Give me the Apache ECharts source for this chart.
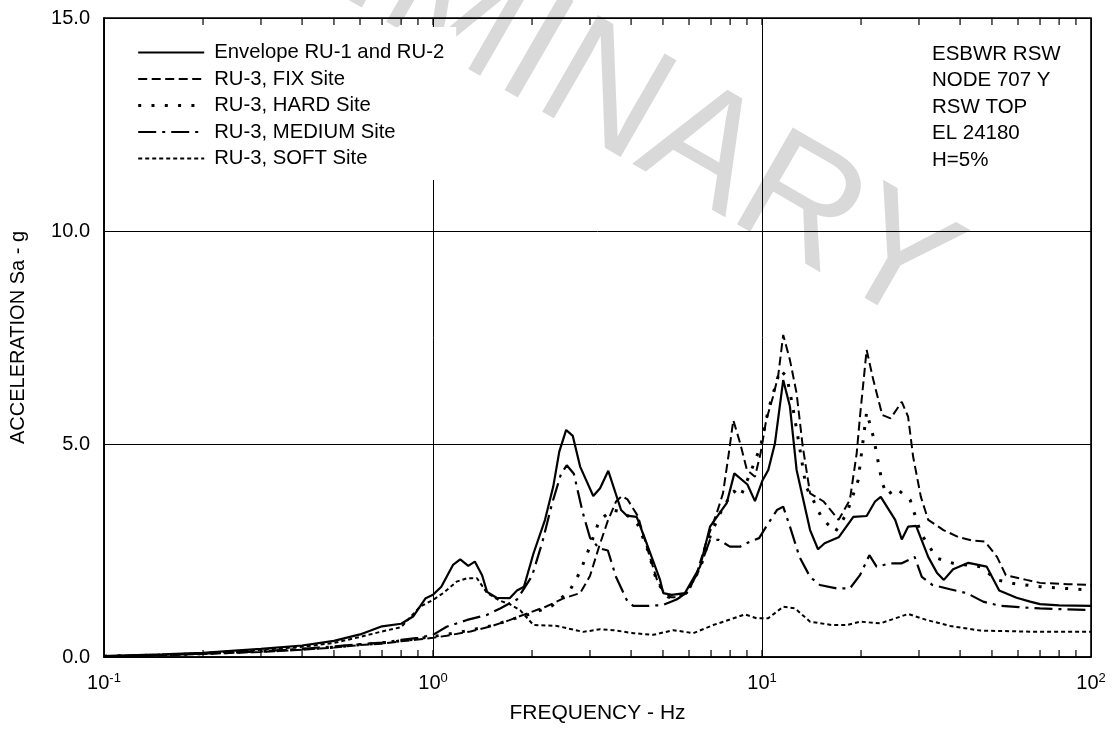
<!DOCTYPE html>
<html>
<head>
<meta charset="utf-8">
<script src="https://cdn.jsdelivr.net/npm/echarts@6/dist/echarts.min.js"></script>
<style>
html,body{margin:0;padding:0;background:#fff;}
#chart{width:1113px;height:736px;}
</style>
</head>
<body>
<div id="chart"></div>
<script>
const seriesNames = ['Envelope RU-1 and RU-2','RU-3, FIX Site','RU-3, HARD Site','RU-3, MEDIUM Site','RU-3, SOFT Site'];
const infoLines = ['ESBWR RSW','NODE 707 Y','RSW TOP','EL 24180','H=5%'];
const yTicks = [0, 5, 10, 15];
const minorTicks = [0.2,0.3,0.4,0.5,0.6,0.7,0.8,0.9,1,2,3,4,5,6,7,8,9,10,20,30,40,50,60,70,80,90];

const envelope = [[0.1,0.02],[0.15,0.06],[0.2,0.1],[0.25,0.15],[0.3,0.19],[0.4,0.27],[0.5,0.38],[0.6,0.53],[0.7,0.72],[0.8,0.78],[0.87,0.95],[0.95,1.38],[1.0,1.46],[1.06,1.65],[1.15,2.16],[1.21,2.29],[1.28,2.14],[1.34,2.24],[1.41,1.92],[1.46,1.53],[1.56,1.39],[1.71,1.38],[1.8,1.56],[1.89,1.65],[2.02,2.43],[2.19,3.22],[2.32,4.0],[2.42,4.82],[2.54,5.33],[2.66,5.19],[2.8,4.47],[3.07,3.78],[3.22,3.96],[3.41,4.37],[3.73,3.45],[3.88,3.32],[4.16,3.29],[4.46,2.67],[4.9,1.81],[5.01,1.5],[5.32,1.46],[5.83,1.5],[6.48,2.12],[6.95,3.06],[7.81,3.61],[8.24,4.31],[9.03,4.05],[9.52,3.66],[10.04,4.15],[10.45,4.39],[10.95,5.02],[11.6,6.5],[12.16,5.88],[12.74,4.39],[14.0,2.98],[14.8,2.53],[15.5,2.67],[17.1,2.81],[18.95,3.29],[20.8,3.31],[22.06,3.65],[22.96,3.76],[25.4,3.22],[26.6,2.76],[27.8,3.06],[29.4,3.08],[32.0,2.35],[34.0,1.98],[35.7,1.81],[38.1,2.06],[42.4,2.21],[48.2,2.12],[52.6,1.56],[59.4,1.39],[65.3,1.3],[70,1.24],[80,1.21],[100,1.2]];

const fixSite = [[0.1,0.02],[0.15,0.04],[0.2,0.07],[0.3,0.12],[0.4,0.17],[0.5,0.22],[0.6,0.28],[0.7,0.31],[0.8,0.37],[0.9,0.41],[1.0,0.45],[1.1,0.5],[1.3,0.6],[1.5,0.72],[1.7,0.86],[1.9,1.0],[2.2,1.18],[2.5,1.38],[2.8,1.5],[3.0,1.9],[3.2,2.6],[3.4,3.2],[3.6,3.65],[3.75,3.78],[3.9,3.7],[4.2,3.3],[4.5,2.5],[4.8,1.8],[5.0,1.55],[5.3,1.4],[5.6,1.4],[5.9,1.5],[6.3,1.9],[6.8,2.75],[7.28,3.37],[7.61,3.84],[7.9,4.7],[8.18,5.56],[8.58,5.02],[9.0,4.39],[9.52,4.23],[9.9,4.78],[10.3,5.56],[10.8,6.11],[11.2,6.6],[11.6,7.56],[12.16,6.97],[12.74,6.19],[13.3,4.94],[14.0,3.84],[15.4,3.65],[17.1,3.22],[18.5,3.69],[19.4,4.78],[19.85,5.64],[20.8,7.21],[21.8,6.5],[23.2,5.68],[24.6,5.6],[26.6,5.99],[27.8,5.64],[28.8,4.7],[30.4,3.76],[32.0,3.22],[35.6,2.98],[39.7,2.81],[43.8,2.73],[47.6,2.71],[51.8,2.35],[55.1,1.92],[63.7,1.81],[70,1.74],[85,1.71],[100,1.69]];

const hardSite = [[0.1,0.02],[0.15,0.045],[0.2,0.08],[0.3,0.13],[0.4,0.18],[0.5,0.23],[0.6,0.29],[0.7,0.33],[0.8,0.38],[0.9,0.43],[1.0,0.48],[1.2,0.58],[1.5,0.73],[1.8,0.92],[2.0,1.02],[2.3,1.2],[2.6,1.55],[2.8,2.0],[3.0,2.6],[3.2,3.2],[3.5,3.45],[3.8,3.4],[4.2,3.1],[4.5,2.5],[4.8,1.75],[5.2,1.4],[5.6,1.4],[6.0,1.6],[6.5,2.1],[7.0,2.9],[7.6,3.5],[8.2,3.9],[8.6,3.76],[9.2,4.31],[9.9,4.94],[10.45,5.8],[11.35,6.74],[11.9,6.58],[12.4,5.88],[13.0,4.94],[13.6,4.0],[14.3,3.69],[15.2,3.26],[16.7,2.94],[18.1,3.37],[19.6,4.15],[20.8,5.75],[21.8,5.17],[22.3,4.78],[23.2,4.08],[24.0,3.8],[25.6,3.96],[28.2,3.69],[30.4,2.9],[34,2.32],[38.1,2.2],[46,2.12],[51.8,1.81],[57.7,1.73],[70,1.65],[100,1.57]];

const mediumSite = [[0.1,0.02],[0.15,0.045],[0.2,0.08],[0.3,0.13],[0.4,0.19],[0.5,0.25],[0.6,0.3],[0.7,0.34],[0.8,0.4],[0.9,0.45],[1.0,0.52],[1.1,0.71],[1.27,0.87],[1.46,0.99],[1.6,1.14],[1.8,1.35],[2.0,1.9],[2.15,2.7],[2.3,3.6],[2.45,4.3],[2.55,4.5],[2.68,4.3],[2.85,3.4],[3.0,2.8],[3.2,2.55],[3.4,2.5],[3.6,1.88],[3.88,1.34],[4.06,1.2],[4.5,1.2],[5.0,1.22],[5.5,1.35],[5.9,1.5],[6.4,2.0],[6.95,2.75],[7.4,2.75],[7.99,2.59],[8.58,2.59],[9.2,2.71],[9.8,2.79],[10.3,3.06],[11.1,3.45],[11.6,3.53],[12.16,3.06],[13.0,2.35],[14.0,1.88],[15.0,1.69],[16.9,1.61],[18.5,1.61],[19.85,1.92],[21.2,2.39],[22.3,2.12],[24.6,2.2],[26.6,2.2],[29.1,2.35],[30.6,1.88],[33,1.69],[37.3,1.59],[41.9,1.5],[47,1.3],[53,1.2],[60.5,1.17],[70,1.14],[100,1.1]];

const softSite = [[0.1,0.02],[0.15,0.05],[0.2,0.09],[0.3,0.17],[0.4,0.24],[0.5,0.33],[0.6,0.47],[0.7,0.6],[0.8,0.7],[0.913,1.18],[1.0,1.34],[1.074,1.5],[1.18,1.77],[1.27,1.85],[1.36,1.85],[1.46,1.5],[1.6,1.32],[1.71,1.24],[1.84,1.1],[2.02,0.75],[2.38,0.73],[2.86,0.59],[3.22,0.65],[3.53,0.63],[4.06,0.56],[4.67,0.52],[5.38,0.63],[6.18,0.56],[7.11,0.75],[7.99,0.88],[8.87,1.0],[9.63,0.91],[10.45,0.91],[11.6,1.18],[12.6,1.14],[14.0,0.83],[16.3,0.75],[18.1,0.75],[19.85,0.83],[22.9,0.79],[27.8,1.01],[31.6,0.87],[37.3,0.73],[46,0.62],[70,0.59],[100,0.59]];

const FONT = 'Liberation Sans, Arial, sans-serif';
const chart = echarts.init(document.getElementById('chart'), null, {renderer:'canvas'});

const lineStyles = [
  {type:'solid', width:2.2},
  {type:[9,4.5], width:2},
  {type:[3,10.3], width:3},
  {type:[18,6,3,6], width:2.2},
  {type:[4,3], width:2}
];
const dataSets = [envelope, fixSite, hardSite, mediumSite, softSite];

const lineSeries = seriesNames.map((n,i)=>({
  name:n, type:'line', data:dataSets[i], symbol:'none', showSymbol:false, smooth:false,
  lineStyle:Object.assign({color:'#000'}, lineStyles[i]),
  itemStyle:{color:'#000'}, z:3, animation:false, clip:true
}));

const tickSeries = {
  type:'custom', name:'ticks', silent:true, animation:false, z:2,
  data: minorTicks.map(v=>[v,0]),
  renderItem:function(params, api){
    const x = api.value(0);
    const b = api.coord([x, yTicks[0]]);
    const t = api.coord([x, yTicks[yTicks.length-1]]);
    return {type:'group', children:[
      {type:'line', shape:{x1:b[0],y1:b[1],x2:b[0],y2:b[1]-7}, style:{stroke:'#000',lineWidth:1.2}},
      {type:'line', shape:{x1:t[0],y1:t[1],x2:t[0],y2:t[1]+7}, style:{stroke:'#000',lineWidth:1.2}}
    ]};
  }
};

chart.setOption({
  animation:false,
  backgroundColor:'#fff',
  textStyle:{fontFamily:FONT},
  grid:{left:104, right:22, top:18, bottom:79, show:true, borderColor:'#000', borderWidth:1.6, backgroundColor:'transparent'},
  graphic:[
    {type:'text', z:-100, x:466, y:16, rotation:-30*Math.PI/180,
     style:{text:'PRELIMINARY', font:'162px '+FONT, fill:'#d9d9d9', textAlign:'center', textVerticalAlign:'middle'}},
    {type:'text', x:932, y:41, z:10,
     style:{text:infoLines.join('\n'), font:'20.5px '+FONT, fill:'#000', lineHeight:26.5, textAlign:'left', textVerticalAlign:'top'}}
  ],
  legend:{
    data:seriesNames, orient:'vertical', left:110, top:27, padding:[15.5,12,11.5,26.7],
    backgroundColor:'#fff', itemWidth:66, itemHeight:14, itemGap:6.5, z:5,
    itemStyle:{opacity:0, borderWidth:0},
    lineStyle:{width:'inherit', type:'inherit', color:'#000'},
    textStyle:{fontSize:20.3, color:'#000', fontFamily:FONT, lineHeight:20, padding:[0,0,0,5]},
    selectedMode:false
  },
  xAxis:{
    type:'log', logBase:10, min:0.1, max:100,
    name:'FREQUENCY - Hz', nameLocation:'middle', nameGap:46,
    nameTextStyle:{fontSize:21, color:'#000', fontFamily:FONT},
    axisLine:{show:true, lineStyle:{color:'#000', width:1.6}},
    axisTick:{show:false},
    splitLine:{show:true, lineStyle:{color:'#000', width:1}},
    axisLabel:{
      margin:15, color:'#000',
      formatter:function(v){ const e = Math.round(Math.log10(v)); return '{b|10}{s|'+e+'}'; },
      rich:{b:{fontSize:20, fontFamily:FONT, color:'#000'}, s:{fontSize:13, fontFamily:FONT, color:'#000', verticalAlign:'top', padding:[0,0,10,0]}}
    }
  },
  yAxis:{
    type:'value', min:yTicks[0], max:yTicks[yTicks.length-1], interval:5,
    name:'ACCELERATION Sa - g', nameLocation:'middle', nameGap:76,
    nameTextStyle:{fontSize:20, color:'#000', fontFamily:FONT},
    axisLine:{show:true, lineStyle:{color:'#000', width:1.6}},
    axisTick:{show:false},
    splitLine:{show:true, lineStyle:{color:'#000', width:1}},
    axisLabel:{margin:14, fontSize:20, color:'#000', fontFamily:FONT, formatter:v=>v.toFixed(1)}
  },
  series: lineSeries.concat([tickSeries])
});
</script>
</body>
</html>
